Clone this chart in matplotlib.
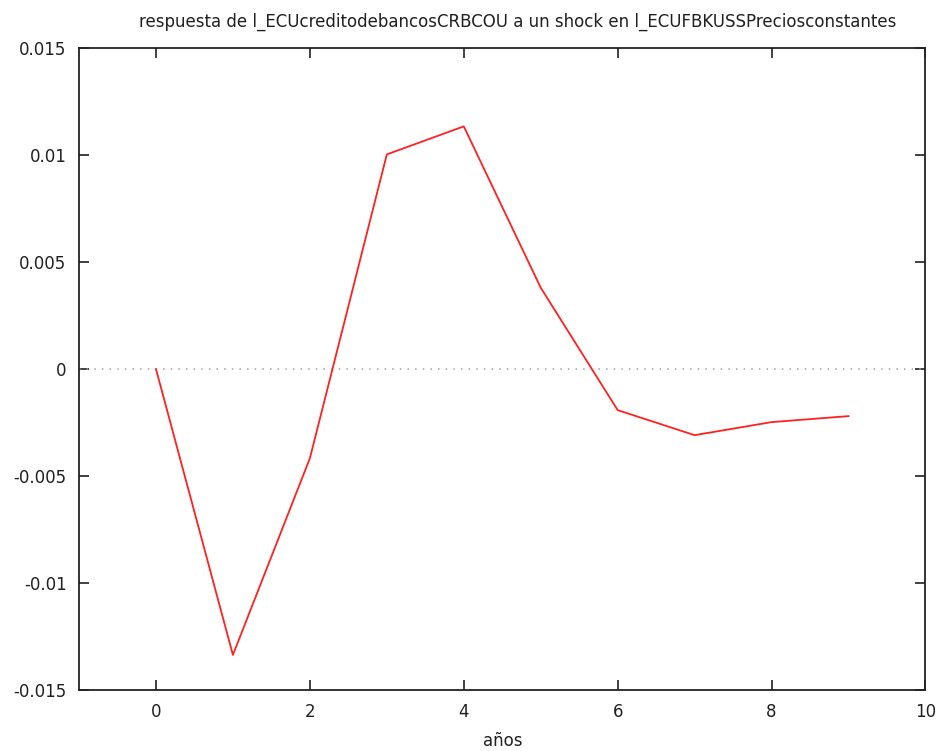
import matplotlib
matplotlib.use('Agg')
import matplotlib.pyplot as plt

# respuesta impulso
periods = [0, 1, 2, 3, 4, 5, 6, 7, 8, 9]
response = [0.0, -0.01336, -0.00417, 0.01003, 0.01134, 0.0038, -0.00192, -0.00309, -0.00248, -0.0022]

xticks = [0, 2, 4, 6, 8, 10]
yticks = [-0.015, -0.01, -0.005, 0, 0.005, 0.01, 0.015]
yticklabels = ['-0.015', '-0.01', '-0.005', '0', '0.005', '0.01', '0.015']

title = 'respuesta de l_ECUcreditodebancosCRBCOU a un shock en l_ECUFBKUSSPreciosconstantes'

plt.rcParams['font.family'] = ['DejaVu Sans']
fig = plt.figure(figsize=(9.44, 7.51), dpi=100)
ax = fig.add_axes([0.0837, 0.0812, 0.8967, 0.8548])

ax.axhline(0, color='#a0a0a0', linestyle=(0, (1, 4)), linewidth=1.1)
ax.plot(periods, response, color='#ff2020', linewidth=1.3)

ax.set_xlim(-1, 10)
ax.set_ylim(-0.015, 0.015)
ax.set_xticks(xticks)
ax.set_yticks(yticks)
ax.set_yticklabels(yticklabels)
ax.tick_params(direction='in', length=7, width=1.2, top=True, right=True,
               labelsize=12, colors='#202020', pad=9)
for s in ax.spines.values():
    s.set_linewidth(1.3)
    s.set_color('#222222')

ax.set_xlabel('años', fontsize=12, labelpad=8, color='#202020')
ax.set_title(title, fontsize=12, pad=15, color='#202020', x=0.518)

fig.savefig('out.png', dpi=100)
